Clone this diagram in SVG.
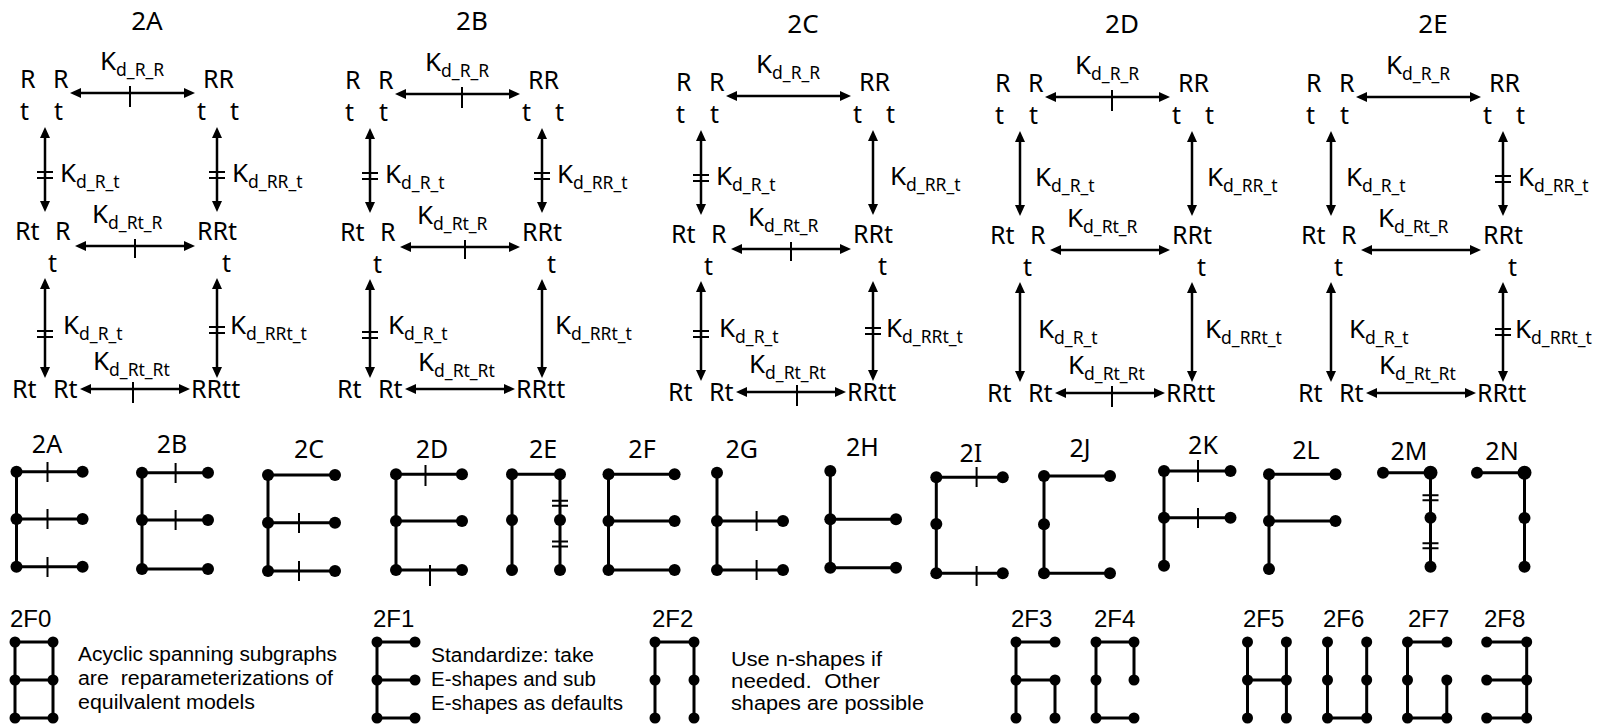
<svg xmlns="http://www.w3.org/2000/svg" width="1597" height="726" viewBox="0 0 1597 726">
<style>
  text { fill: #000; }
  .lb { font-family: "Noto Sans", "DejaVu Sans", sans-serif; font-size: 25px; }
  .ttl { font-family: "Noto Sans", "DejaVu Sans", sans-serif; font-size: 26px; text-anchor: middle; }
  .k { font-family: "Noto Sans", "DejaVu Sans", sans-serif; font-size: 26px; }
  .sub { font-size: 17.5px; }
  .arr { stroke: #000; stroke-width: 2.5; fill: none; marker-start: url(#ah); marker-end: url(#ah); }
  .tk { stroke: #000; stroke-width: 2; fill: none; }
  .ed { stroke: #000; stroke-width: 3; fill: none; stroke-linecap: round; }
  .tk2 { stroke: #000; stroke-width: 2; fill: none; }
  .dot { fill: #000; }
  .gl { font-family: "Noto Sans", "DejaVu Sans", sans-serif; font-size: 25px; text-anchor: middle; }
  .fl { font-family: "Liberation Sans", Arial, sans-serif; font-size: 24px; }
  .note { font-family: "Liberation Sans", Arial, sans-serif; font-size: 20px; }
</style>
<defs>
  <marker id="ah" viewBox="0 0 11 10" refX="3" refY="5" markerWidth="11" markerHeight="10" markerUnits="userSpaceOnUse" orient="auto-start-reverse">
    <path d="M0,0 L11,5 L0,10 z" fill="#000"/>
  </marker>
</defs>
<rect width="1597" height="726" fill="#fff"/>

<!-- ===== Top row: five state diagrams ===== -->
<!-- panel 2A -->
<g id="p2A">
  <text class="ttl" x="147" y="30">2A</text>
  <g id="p2A-RtRt"><text class="lb" x="20" y="88">R</text><text class="lb" x="53" y="88">R</text><text class="lb" x="20" y="120">t</text><text class="lb" x="54" y="120">t</text></g>
  <g id="p2A-RRtt"><text class="lb" x="203" y="88">RR</text><text class="lb" x="197" y="120">t</text><text class="lb" x="230" y="120">t</text></g>
  <g id="p2A-RtR"><text class="lb" x="15" y="240">Rt</text><text class="lb" x="55" y="240">R</text><text class="lb" x="48" y="272">t</text></g>
  <g id="p2A-RRt"><text class="lb" x="197" y="240">RRt</text><text class="lb" x="222" y="272">t</text></g>
  <g id="p2A-RtRt-b"><text class="lb" x="12" y="398">Rt</text><text class="lb" x="53" y="398">Rt</text></g>
  <g id="p2A-RRtt-b"><text class="lb" x="191" y="398">RRtt</text></g>
  <g id="p2A-conn">
    <line class="arr" x1="78" y1="93" x2="187" y2="93"/>
    <line class="arr" x1="83" y1="246" x2="187" y2="246"/>
    <line class="arr" x1="88" y1="389" x2="182" y2="389"/>
    <line class="arr" x1="45" y1="135" x2="45" y2="204"/>
    <line class="arr" x1="217" y1="135" x2="217" y2="204"/>
    <line class="arr" x1="45" y1="286" x2="45" y2="370"/>
    <line class="arr" x1="217" y1="286" x2="217" y2="370"/>
    <path class="tk" d="M130,86 V107 M135,239 V258 M133,382 V403"/>
    <path class="tk" d="M37,172 H53 M37,178 H53 M209,172 H225 M209,178 H225 M37,331 H53 M37,337 H53 M209,327 H225 M209,333 H225"/>
    <text class="k" x="100" y="70">K<tspan class="sub" dy="6">d_R_R</tspan></text>
    <text class="k" x="60" y="182">K<tspan class="sub" dy="6">d_R_t</tspan></text>
    <text class="k" x="232" y="182">K<tspan class="sub" dy="6">d_RR_t</tspan></text>
    <text class="k" x="92" y="223">K<tspan class="sub" dy="6">d_Rt_R</tspan></text>
    <text class="k" x="63" y="334">K<tspan class="sub" dy="6">d_R_t</tspan></text>
    <text class="k" x="230" y="334">K<tspan class="sub" dy="6">d_RRt_t</tspan></text>
    <text class="k" x="93" y="370">K<tspan class="sub" dy="6">d_Rt_Rt</tspan></text>
  </g>
</g>

<!-- panel 2B -->
<g id="p2B" transform="translate(325,1)">
  <text class="ttl" x="147" y="29">2B</text>
  <g id="p2B-RtRt"><text class="lb" x="20" y="88">R</text><text class="lb" x="53" y="88">R</text><text class="lb" x="20" y="120">t</text><text class="lb" x="54" y="120">t</text></g>
  <g id="p2B-RRtt"><text class="lb" x="203" y="88">RR</text><text class="lb" x="197" y="120">t</text><text class="lb" x="230" y="120">t</text></g>
  <g id="p2B-RtR"><text class="lb" x="15" y="240">Rt</text><text class="lb" x="55" y="240">R</text><text class="lb" x="48" y="272">t</text></g>
  <g id="p2B-RRt"><text class="lb" x="197" y="240">RRt</text><text class="lb" x="222" y="272">t</text></g>
  <g id="p2B-RtRt-b"><text class="lb" x="12" y="397">Rt</text><text class="lb" x="53" y="397">Rt</text></g>
  <g id="p2B-RRtt-b"><text class="lb" x="191" y="397">RRtt</text></g>
  <g id="p2B-conn">
    <line class="arr" x1="78" y1="93" x2="187" y2="93"/>
    <line class="arr" x1="83" y1="246" x2="187" y2="246"/>
    <line class="arr" x1="88" y1="388" x2="182" y2="388"/>
    <line class="arr" x1="45" y1="135" x2="45" y2="204"/>
    <line class="arr" x1="217" y1="135" x2="217" y2="204"/>
    <line class="arr" x1="45" y1="286" x2="45" y2="369"/>
    <line class="arr" x1="217" y1="286" x2="217" y2="369"/>
    <path class="tk" d="M137,86 V107 M140,239 V258"/>
    <path class="tk" d="M37,172 H53 M37,178 H53 M209,172 H225 M209,178 H225 M37,331 H53 M37,337 H53"/>
    <text class="k" x="100" y="70">K<tspan class="sub" dy="6">d_R_R</tspan></text>
    <text class="k" x="60" y="182">K<tspan class="sub" dy="6">d_R_t</tspan></text>
    <text class="k" x="232" y="182">K<tspan class="sub" dy="6">d_RR_t</tspan></text>
    <text class="k" x="92" y="223">K<tspan class="sub" dy="6">d_Rt_R</tspan></text>
    <text class="k" x="63" y="333">K<tspan class="sub" dy="6">d_R_t</tspan></text>
    <text class="k" x="230" y="333">K<tspan class="sub" dy="6">d_RRt_t</tspan></text>
    <text class="k" x="93" y="370">K<tspan class="sub" dy="6">d_Rt_Rt</tspan></text>
  </g>
</g>

<!-- panel 2C -->
<g id="p2C" transform="translate(656,3)">
  <text class="ttl" x="147" y="30">2C</text>
  <g id="p2C-RtRt"><text class="lb" x="20" y="88">R</text><text class="lb" x="53" y="88">R</text><text class="lb" x="20" y="120">t</text><text class="lb" x="54" y="120">t</text></g>
  <g id="p2C-RRtt"><text class="lb" x="203" y="88">RR</text><text class="lb" x="197" y="120">t</text><text class="lb" x="230" y="120">t</text></g>
  <g id="p2C-RtR"><text class="lb" x="15" y="240">Rt</text><text class="lb" x="55" y="240">R</text><text class="lb" x="48" y="272">t</text></g>
  <g id="p2C-RRt"><text class="lb" x="197" y="240">RRt</text><text class="lb" x="222" y="272">t</text></g>
  <g id="p2C-RtRt-b"><text class="lb" x="12" y="398">Rt</text><text class="lb" x="53" y="398">Rt</text></g>
  <g id="p2C-RRtt-b"><text class="lb" x="191" y="398">RRtt</text></g>
  <g id="p2C-conn">
    <line class="arr" x1="78" y1="93" x2="187" y2="93"/>
    <line class="arr" x1="83" y1="246" x2="187" y2="246"/>
    <line class="arr" x1="88" y1="389" x2="182" y2="389"/>
    <line class="arr" x1="45" y1="135" x2="45" y2="204"/>
    <line class="arr" x1="217" y1="135" x2="217" y2="204"/>
    <line class="arr" x1="45" y1="286" x2="45" y2="370"/>
    <line class="arr" x1="217" y1="286" x2="217" y2="370"/>
    <path class="tk" d="M135,239 V258 M141,382 V403"/>
    <path class="tk" d="M37,172 H53 M37,178 H53 M37,328 H53 M37,334 H53 M209,325 H225 M209,331 H225"/>
    <text class="k" x="100" y="70">K<tspan class="sub" dy="6">d_R_R</tspan></text>
    <text class="k" x="60" y="182">K<tspan class="sub" dy="6">d_R_t</tspan></text>
    <text class="k" x="234" y="182">K<tspan class="sub" dy="6">d_RR_t</tspan></text>
    <text class="k" x="92" y="223">K<tspan class="sub" dy="6">d_Rt_R</tspan></text>
    <text class="k" x="63" y="334">K<tspan class="sub" dy="6">d_R_t</tspan></text>
    <text class="k" x="230" y="334">K<tspan class="sub" dy="6">d_RRt_t</tspan></text>
    <text class="k" x="93" y="370">K<tspan class="sub" dy="6">d_Rt_Rt</tspan></text>
  </g>
</g>

<!-- panel 2D -->
<g id="p2D" transform="translate(975,4)">
  <text class="ttl" x="147" y="29">2D</text>
  <g id="p2D-RtRt"><text class="lb" x="20" y="88">R</text><text class="lb" x="53" y="88">R</text><text class="lb" x="20" y="120">t</text><text class="lb" x="54" y="120">t</text></g>
  <g id="p2D-RRtt"><text class="lb" x="203" y="88">RR</text><text class="lb" x="197" y="120">t</text><text class="lb" x="230" y="120">t</text></g>
  <g id="p2D-RtR"><text class="lb" x="15" y="240">Rt</text><text class="lb" x="55" y="240">R</text><text class="lb" x="48" y="272">t</text></g>
  <g id="p2D-RRt"><text class="lb" x="197" y="240">RRt</text><text class="lb" x="222" y="272">t</text></g>
  <g id="p2D-RtRt-b"><text class="lb" x="12" y="398">Rt</text><text class="lb" x="53" y="398">Rt</text></g>
  <g id="p2D-RRtt-b"><text class="lb" x="191" y="398">RRtt</text></g>
  <g id="p2D-conn">
    <line class="arr" x1="78" y1="93" x2="187" y2="93"/>
    <line class="arr" x1="83" y1="246" x2="187" y2="246"/>
    <line class="arr" x1="88" y1="389" x2="182" y2="389"/>
    <line class="arr" x1="45" y1="135" x2="45" y2="204"/>
    <line class="arr" x1="217" y1="135" x2="217" y2="204"/>
    <line class="arr" x1="45" y1="286" x2="45" y2="370"/>
    <line class="arr" x1="217" y1="286" x2="217" y2="370"/>
    <path class="tk" d="M137,86 V107 M137,382 V403"/>
    <text class="k" x="100" y="70">K<tspan class="sub" dy="6">d_R_R</tspan></text>
    <text class="k" x="60" y="182">K<tspan class="sub" dy="6">d_R_t</tspan></text>
    <text class="k" x="232" y="182">K<tspan class="sub" dy="6">d_RR_t</tspan></text>
    <text class="k" x="92" y="223">K<tspan class="sub" dy="6">d_Rt_R</tspan></text>
    <text class="k" x="63" y="334">K<tspan class="sub" dy="6">d_R_t</tspan></text>
    <text class="k" x="230" y="334">K<tspan class="sub" dy="6">d_RRt_t</tspan></text>
    <text class="k" x="93" y="370">K<tspan class="sub" dy="6">d_Rt_Rt</tspan></text>
  </g>
</g>

<!-- panel 2E -->
<g id="p2E" transform="translate(1286,4)">
  <text class="ttl" x="147" y="29">2E</text>
  <g id="p2E-RtRt"><text class="lb" x="20" y="88">R</text><text class="lb" x="53" y="88">R</text><text class="lb" x="20" y="120">t</text><text class="lb" x="54" y="120">t</text></g>
  <g id="p2E-RRtt"><text class="lb" x="203" y="88">RR</text><text class="lb" x="197" y="120">t</text><text class="lb" x="230" y="120">t</text></g>
  <g id="p2E-RtR"><text class="lb" x="15" y="240">Rt</text><text class="lb" x="55" y="240">R</text><text class="lb" x="48" y="272">t</text></g>
  <g id="p2E-RRt"><text class="lb" x="197" y="240">RRt</text><text class="lb" x="222" y="272">t</text></g>
  <g id="p2E-RtRt-b"><text class="lb" x="12" y="398">Rt</text><text class="lb" x="53" y="398">Rt</text></g>
  <g id="p2E-RRtt-b"><text class="lb" x="191" y="398">RRtt</text></g>
  <g id="p2E-conn">
    <line class="arr" x1="78" y1="93" x2="187" y2="93"/>
    <line class="arr" x1="83" y1="246" x2="187" y2="246"/>
    <line class="arr" x1="88" y1="389" x2="182" y2="389"/>
    <line class="arr" x1="45" y1="135" x2="45" y2="204"/>
    <line class="arr" x1="217" y1="135" x2="217" y2="204"/>
    <line class="arr" x1="45" y1="286" x2="45" y2="370"/>
    <line class="arr" x1="217" y1="286" x2="217" y2="370"/>
    <path class="tk" d="M209,172 H225 M209,178 H225 M209,325 H225 M209,331 H225"/>
    <text class="k" x="100" y="70">K<tspan class="sub" dy="6">d_R_R</tspan></text>
    <text class="k" x="60" y="182">K<tspan class="sub" dy="6">d_R_t</tspan></text>
    <text class="k" x="232" y="182">K<tspan class="sub" dy="6">d_RR_t</tspan></text>
    <text class="k" x="92" y="223">K<tspan class="sub" dy="6">d_Rt_R</tspan></text>
    <text class="k" x="63" y="334">K<tspan class="sub" dy="6">d_R_t</tspan></text>
    <text class="k" x="229" y="334">K<tspan class="sub" dy="6">d_RRt_t</tspan></text>
    <text class="k" x="93" y="370">K<tspan class="sub" dy="6">d_Rt_Rt</tspan></text>
  </g>
</g>

<!-- ===== Middle row: spanning-tree glyphs 2A..2N ===== -->
<g id="g2A">
  <text class="gl" x="47" y="453">2A</text>
  <path class="ed" d="M16.5,471.7 V566.7 M16.5,471.7 H82.6 M16.5,519 H82.6 M16.5,566.7 H82.6"/>
  <path class="tk2" d="M47.5,462 V482 M47.5,509 V529 M47.5,557 V577"/>
  <g class="dot"><circle cx="16.5" cy="471.7" r="6"/><circle cx="82.6" cy="471.7" r="6"/><circle cx="16.5" cy="519" r="6"/><circle cx="82.6" cy="519" r="6"/><circle cx="16.5" cy="566.7" r="6"/><circle cx="82.6" cy="566.7" r="6"/></g>
</g>
<g id="g2B">
  <text class="gl" x="172" y="453">2B</text>
  <path class="ed" d="M142,472.7 V569 M142,472.7 H208 M142,520 H208 M142,569 H208"/>
  <path class="tk2" d="M175.6,463 V483 M175.6,510 V530"/>
  <g class="dot"><circle cx="142" cy="472.7" r="6"/><circle cx="208" cy="472.7" r="6"/><circle cx="142" cy="520" r="6"/><circle cx="208" cy="520" r="6"/><circle cx="142" cy="569" r="6"/><circle cx="208" cy="569" r="6"/></g>
</g>
<g id="g2C">
  <text class="gl" x="309" y="458">2C</text>
  <path class="ed" d="M268,475 V571 M268,475 H335 M268,522.7 H335 M268,571 H335"/>
  <path class="tk2" d="M299,513 V533 M299,561 V581"/>
  <g class="dot"><circle cx="268" cy="475" r="6"/><circle cx="335" cy="475" r="6"/><circle cx="268" cy="522.7" r="6"/><circle cx="335" cy="522.7" r="6"/><circle cx="268" cy="571" r="6"/><circle cx="335" cy="571" r="6"/></g>
</g>
<g id="g2D">
  <text class="gl" x="432" y="458">2D</text>
  <path class="ed" d="M396,474.3 V570 M396,474.3 H462 M396,521 H462 M396,570 H462"/>
  <path class="tk2" d="M425.5,465 V486 M430,565 V586"/>
  <g class="dot"><circle cx="396" cy="474.3" r="6"/><circle cx="462" cy="474.3" r="6"/><circle cx="396" cy="521" r="6"/><circle cx="462" cy="521" r="6"/><circle cx="396" cy="570" r="6"/><circle cx="462" cy="570" r="6"/></g>
</g>
<g id="g2E">
  <text class="gl" x="543" y="458">2E</text>
  <path class="ed" d="M512,474.3 H560 M512,474.3 V570 M560,474.3 V570"/>
  <path class="tk2" d="M552,500.8 H568 M552,505.8 H568 M552,541.5 H568 M552,546.5 H568"/>
  <g class="dot"><circle cx="512" cy="474.3" r="6"/><circle cx="560" cy="474.3" r="6"/><circle cx="512" cy="520" r="6"/><circle cx="560" cy="520" r="6"/><circle cx="512" cy="570" r="6"/><circle cx="560" cy="570" r="6"/></g>
</g>
<g id="g2F">
  <text class="gl" x="642" y="458">2F</text>
  <path class="ed" d="M608.5,474.3 V570 M608.5,474.3 H674.6 M608.5,521 H674.6 M608.5,570 H674.6"/>
  <g class="dot"><circle cx="608.5" cy="474.3" r="6"/><circle cx="674.6" cy="474.3" r="6"/><circle cx="608.5" cy="521" r="6"/><circle cx="674.6" cy="521" r="6"/><circle cx="608.5" cy="570" r="6"/><circle cx="674.6" cy="570" r="6"/></g>
</g>
<g id="g2G">
  <text class="gl" x="741.8" y="458">2G</text>
  <path class="ed" d="M717,472.7 V570 M717,521 H783 M717,570 H783"/>
  <path class="tk2" d="M756.6,511 V531 M756.6,560 V580"/>
  <g class="dot"><circle cx="717" cy="472.7" r="6"/><circle cx="717" cy="521" r="6"/><circle cx="783" cy="521" r="6"/><circle cx="717" cy="570" r="6"/><circle cx="783" cy="570" r="6"/></g>
</g>
<g id="g2H">
  <text class="gl" x="862.3" y="456">2H</text>
  <path class="ed" d="M830.3,471 V567.7 M830.3,519.3 H896 M830.3,567.7 H896"/>
  <g class="dot"><circle cx="830.3" cy="471" r="6"/><circle cx="830.3" cy="519.3" r="6"/><circle cx="896" cy="519.3" r="6"/><circle cx="830.3" cy="567.7" r="6"/><circle cx="896" cy="567.7" r="6"/></g>
</g>
<g id="g2I">
  <text class="gl" x="970.8" y="462">2I</text>
  <path class="ed" d="M936.3,477.3 V573.3 M936.3,477.3 H1002.8 M936.3,573.3 H1002.8"/>
  <path class="tk2" d="M976.6,467 V487 M976.6,566 V586"/>
  <g class="dot"><circle cx="936.3" cy="477.3" r="6"/><circle cx="1002.8" cy="477.3" r="6"/><circle cx="936.3" cy="524" r="6"/><circle cx="936.3" cy="573.3" r="6"/><circle cx="1002.8" cy="573.3" r="6"/></g>
</g>
<g id="g2J">
  <text class="gl" x="1080" y="457">2J</text>
  <path class="ed" d="M1044,476 V573.3 M1044,476 H1110 M1044,573.3 H1110"/>
  <g class="dot"><circle cx="1044" cy="476" r="6"/><circle cx="1110" cy="476" r="6"/><circle cx="1044" cy="524.3" r="6"/><circle cx="1044" cy="573.3" r="6"/><circle cx="1110" cy="573.3" r="6"/></g>
</g>
<g id="g2K">
  <text class="gl" x="1203" y="454">2K</text>
  <path class="ed" d="M1164,471 V565.7 M1164,471 H1230.5 M1164,517.7 H1230.5"/>
  <path class="tk2" d="M1198,460 V482 M1198,508 V528"/>
  <g class="dot"><circle cx="1164" cy="471" r="6"/><circle cx="1230.5" cy="471" r="6"/><circle cx="1164" cy="517.7" r="6"/><circle cx="1230.5" cy="517.7" r="6"/><circle cx="1164" cy="565.7" r="6"/></g>
</g>
<g id="g2L">
  <text class="gl" x="1306" y="459">2L</text>
  <path class="ed" d="M1269,474.3 V569 M1269,474.3 H1335.5 M1269,521 H1335.5"/>
  <g class="dot"><circle cx="1269" cy="474.3" r="6"/><circle cx="1335.5" cy="474.3" r="6"/><circle cx="1269" cy="521" r="6"/><circle cx="1335.5" cy="521" r="6"/><circle cx="1269" cy="569" r="6"/></g>
</g>
<g id="g2M">
  <text class="gl" x="1409" y="460">2M</text>
  <path class="ed" d="M1383,472.7 H1430.5 V566.7"/>
  <path class="tk2" d="M1422.5,495.2 H1438.5 M1422.5,500.2 H1438.5 M1422.5,543.2 H1438.5 M1422.5,548.2 H1438.5"/>
  <g class="dot"><circle cx="1383" cy="472.7" r="6"/><circle cx="1430.5" cy="472.7" r="7"/><circle cx="1430.5" cy="517.7" r="6"/><circle cx="1430.5" cy="566.7" r="6"/></g>
</g>
<g id="g2N">
  <text class="gl" x="1502" y="460">2N</text>
  <path class="ed" d="M1477,472.7 H1524.5 V566.7"/>
  <g class="dot"><circle cx="1477" cy="472.7" r="6"/><circle cx="1524.5" cy="472.7" r="7"/><circle cx="1524.5" cy="518" r="6"/><circle cx="1524.5" cy="566.7" r="6"/></g>
</g>

<!-- ===== Bottom row: standardised shapes 2F0..2F8 ===== -->
<g id="f2F0">
  <text class="fl" x="10" y="627">2F0</text>
  <path class="ed" d="M15,642 H53 M15,680 H53 M15,718 H53 M15,642 V718 M53,642 V718"/>
  <g class="dot"><circle cx="15" cy="642" r="5.5"/><circle cx="53" cy="642" r="5.5"/><circle cx="15" cy="680" r="5.5"/><circle cx="53" cy="680" r="5.5"/><circle cx="15" cy="718" r="5.5"/><circle cx="53" cy="718" r="5.5"/></g>
</g>
<g id="note1">
  <text class="note" x="78" y="661" textLength="259" lengthAdjust="spacingAndGlyphs">Acyclic spanning subgraphs</text>
  <text class="note" x="78" y="685" textLength="255" lengthAdjust="spacingAndGlyphs">are&#160; reparameterizations of</text>
  <text class="note" x="78" y="709" textLength="177" lengthAdjust="spacingAndGlyphs">equilvalent models</text>
</g>
<g id="f2F1">
  <text class="fl" x="373" y="627">2F1</text>
  <path class="ed" d="M377,642 V718 M377,642 H415 M377,680 H415 M377,718 H415"/>
  <g class="dot"><circle cx="377" cy="642" r="5.5"/><circle cx="415" cy="642" r="5.5"/><circle cx="377" cy="680" r="5.5"/><circle cx="415" cy="680" r="5.5"/><circle cx="377" cy="718" r="5.5"/><circle cx="415" cy="718" r="5.5"/></g>
</g>
<g id="note2">
  <text class="note" x="431" y="662" textLength="163" lengthAdjust="spacingAndGlyphs">Standardize: take</text>
  <text class="note" x="431" y="686" textLength="165" lengthAdjust="spacingAndGlyphs">E-shapes and sub</text>
  <text class="note" x="431" y="710" textLength="192" lengthAdjust="spacingAndGlyphs">E-shapes as defaults</text>
</g>
<g id="f2F2">
  <text class="fl" x="652" y="627">2F2</text>
  <path class="ed" d="M655,718 V642 H694 V718"/>
  <g class="dot"><circle cx="655" cy="642" r="5.5"/><circle cx="694" cy="642" r="5.5"/><circle cx="655" cy="680" r="5.5"/><circle cx="694" cy="680" r="5.5"/><circle cx="655" cy="718" r="5.5"/><circle cx="694" cy="718" r="5.5"/></g>
</g>
<g id="note3">
  <text class="note" x="731" y="666" textLength="151" lengthAdjust="spacingAndGlyphs">Use n-shapes if</text>
  <text class="note" x="731" y="688" textLength="149" lengthAdjust="spacingAndGlyphs">needed.&#160; Other</text>
  <text class="note" x="731" y="710" textLength="193" lengthAdjust="spacingAndGlyphs">shapes are possible</text>
</g>
<g id="f2F3">
  <text class="fl" x="1011" y="627">2F3</text>
  <path class="ed" d="M1016,642 H1055 M1016,642 V718 M1016,680 H1055 V718"/>
  <g class="dot"><circle cx="1016" cy="642" r="5.5"/><circle cx="1055" cy="642" r="5.5"/><circle cx="1016" cy="680" r="5.5"/><circle cx="1055" cy="680" r="5.5"/><circle cx="1016" cy="718" r="5.5"/><circle cx="1055" cy="718" r="5.5"/></g>
</g>
<g id="f2F4">
  <text class="fl" x="1094" y="627">2F4</text>
  <path class="ed" d="M1096,642 H1134 V680 M1096,642 V718 H1134"/>
  <g class="dot"><circle cx="1096" cy="642" r="5.5"/><circle cx="1134" cy="642" r="5.5"/><circle cx="1096" cy="680" r="5.5"/><circle cx="1134" cy="680" r="5.5"/><circle cx="1096" cy="718" r="5.5"/><circle cx="1134" cy="718" r="5.5"/></g>
</g>
<g id="f2F5">
  <text class="fl" x="1243" y="627">2F5</text>
  <path class="ed" d="M1247.5,642 V718 M1286.4,642 V718 M1247.5,680 H1286.4"/>
  <g class="dot"><circle cx="1247.5" cy="642" r="5.5"/><circle cx="1286.4" cy="642" r="5.5"/><circle cx="1247.5" cy="680" r="5.5"/><circle cx="1286.4" cy="680" r="5.5"/><circle cx="1247.5" cy="718" r="5.5"/><circle cx="1286.4" cy="718" r="5.5"/></g>
</g>
<g id="f2F6">
  <text class="fl" x="1323" y="627">2F6</text>
  <path class="ed" d="M1327.5,642 V718 H1366.7 V642"/>
  <g class="dot"><circle cx="1327.5" cy="642" r="5.5"/><circle cx="1366.7" cy="642" r="5.5"/><circle cx="1327.5" cy="680" r="5.5"/><circle cx="1366.7" cy="680" r="5.5"/><circle cx="1327.5" cy="718" r="5.5"/><circle cx="1366.7" cy="718" r="5.5"/></g>
</g>
<g id="f2F7">
  <text class="fl" x="1408" y="627">2F7</text>
  <path class="ed" d="M1446.8,642 H1407.5 V718 H1446.8 V680"/>
  <g class="dot"><circle cx="1407.5" cy="642" r="5.5"/><circle cx="1446.8" cy="642" r="5.5"/><circle cx="1407.5" cy="680" r="5.5"/><circle cx="1446.8" cy="680" r="5.5"/><circle cx="1407.5" cy="718" r="5.5"/><circle cx="1446.8" cy="718" r="5.5"/></g>
</g>
<g id="f2F8">
  <text class="fl" x="1484" y="627">2F8</text>
  <path class="ed" d="M1486.7,642 H1526.7 V718 H1486.7 M1486.7,680 H1526.7"/>
  <g class="dot"><circle cx="1486.7" cy="642" r="5.5"/><circle cx="1526.7" cy="642" r="5.5"/><circle cx="1486.7" cy="680" r="5.5"/><circle cx="1526.7" cy="680" r="5.5"/><circle cx="1486.7" cy="718" r="5.5"/><circle cx="1526.7" cy="718" r="5.5"/></g>
</g>
</svg>
